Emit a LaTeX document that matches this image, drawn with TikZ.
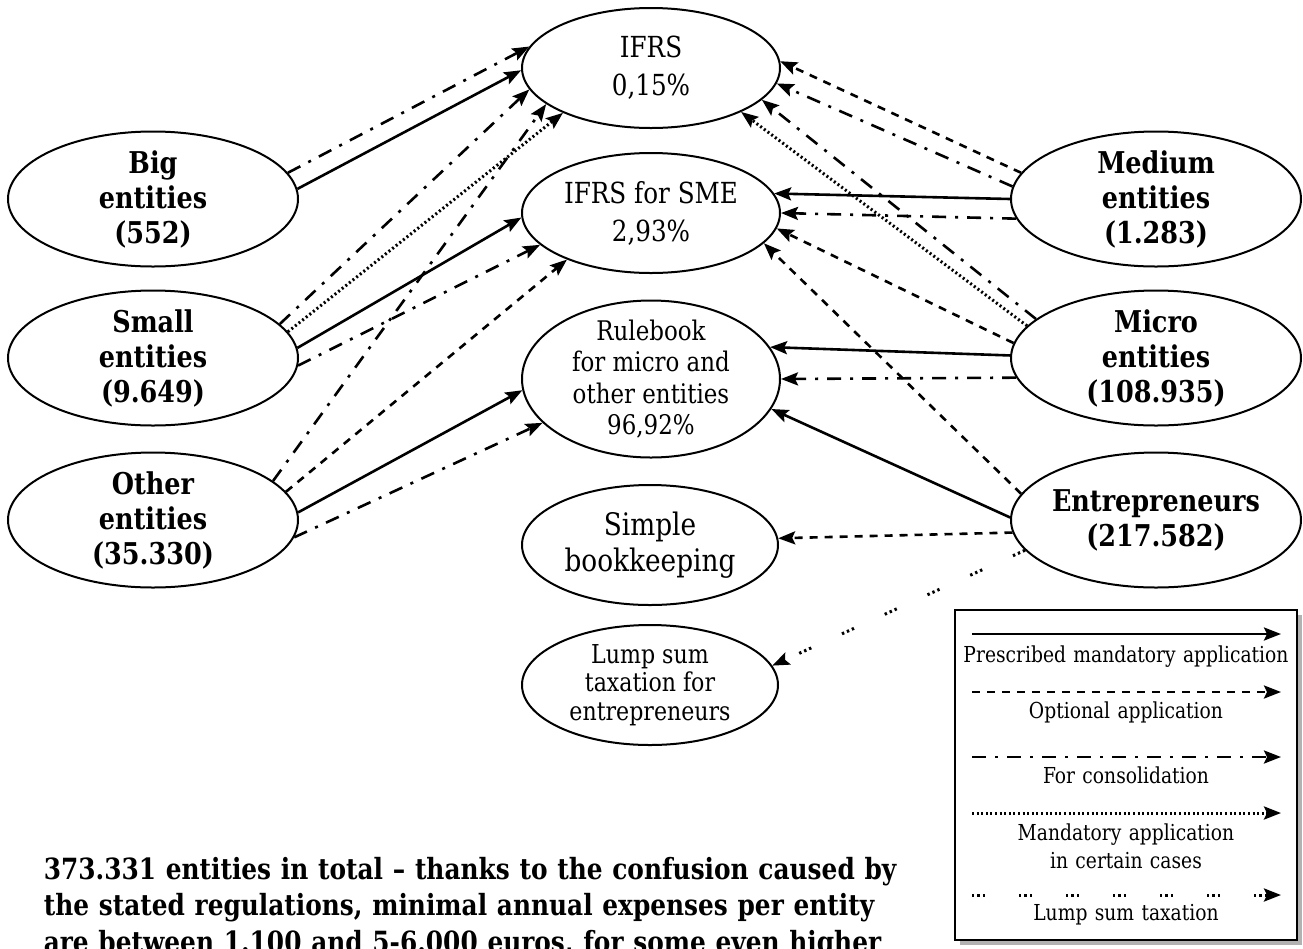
\documentclass[tikz,border=0pt]{standalone}
\usepackage{fontspec}
\setmainfont{DejaVu Serif}[FakeStretch=0.85]
\usetikzlibrary{shapes.geometric,arrows.meta,shadows}

\begin{document}
\begin{tikzpicture}[
    x=0.5pt,
    y=-0.5pt,
    thick
]

% =========================
% Styles
% =========================
\tikzstyle{entity} = [
    ellipse, draw,
    line width=1pt,
    inner sep=-6pt,
    minimum width=145pt,
    minimum height=67.5pt,
    align=center,
    font=\fontsize{15}{17.5}\selectfont\bfseries
]

\tikzstyle{std} = [
    ellipse, draw,
    line width=1pt,
    inner sep=-6pt,
    minimum width=129pt,
    minimum height=60pt,
    align=center,
    font=\fontsize{14.5}{19}\selectfont
]

\tikzstyle{key} = [
    text width=170pt,
    align=center,
    anchor=base,
    inner sep=0pt,
    font=\fontsize{11}{14}\selectfont
]

\tikzstyle{arr}  = [line width=1.3pt, -{Stealth[length=8.5pt,width=6.5pt,inset=1.5pt]}]
\tikzstyle{mand} = [arr]
\tikzstyle{opt}  = [arr, dash pattern=on 4pt off 3.5pt]
\tikzstyle{cons} = [arr, dash pattern=on 7pt off 4.5pt on 1.5pt off 4.5pt]
\tikzstyle{cert} = [arr, line width=1.5pt, dash pattern=on 1pt off 1.3pt]
\tikzstyle{lump} = [arr, line width=1.5pt, dash pattern=on 1.2pt off 1.5pt on 1.2pt off 1.5pt on 1.2pt off 16.9pt]

\useasboundingbox (0,0) rectangle (1303,949);

% =========================
% Nodes (FIXED POSITIONS)
% =========================
\node[entity] (big)    at (153,199)  {Big\\entities\\(552)};
\node[entity] (small)  at (153,358)  {Small\\entities\\(9.649)};
\node[entity] (other)  at (153,520)  {Other\\entities\\(35.330)};
\node[entity] (medium) at (1156,199) {Medium\\entities\\(1.283)};
\node[entity] (micro)  at (1156,358) {Micro\\entities\\(108.935)};
\node[entity] (entr)   at (1156,520) {Entrepreneurs\\(217.582)};

\node[std] (ifrs) at (651,68)  {IFRS\\0,15\%};
\node[std] (sme)  at (651,213) {IFRS for SME\\2,93\%};
\node[std, minimum height=78.5pt, font=\fontsize{13.5}{15.75}\selectfont]
    (rulebook) at (651,379) {Rulebook\\for micro and\\other entities\\96,92\%};
\node[std, minimum width=128pt, font=\fontsize{15.5}{18.3}\selectfont]
    (simple) at (650,545) {Simple\\bookkeeping};
\node[std, minimum width=128pt, font=\fontsize{13}{14.2}\selectfont]
    (lumpsum) at (650,685) {Lump sum\\taxation for\\entrepreneurs};

% =========================
% Connections
% =========================
\draw[cons] (big.11) -- (ifrs.170);
\draw[mand] (big.4)  -- (ifrs.181);

\draw[cons] (small.15) -- (ifrs.190);
\draw[cert] (small.11) -- (ifrs.207);
\draw[mand] (small.4)  -- (sme.182);
\draw[cons] (small.-3) -- (sme.196);

\draw[cons] (other.18) -- (ifrs.199);
\draw[opt]  (other.12) -- (sme.209);
\draw[mand] (other.3)  -- (rulebook.185);
\draw[cons] (other.-7) -- (rulebook.202);

\draw[opt]  (medium.169) -- (ifrs.3);
\draw[cons] (medium.175) -- (ifrs.-7);
\draw[mand] (medium.180) -- (sme.9);
\draw[cons] (medium.188) -- (sme.0);

\draw[cons] (micro.162) -- (ifrs.-16);
\draw[cert] (micro.166) -- (ifrs.-26);
\draw[opt]  (micro.174) -- (sme.-7);
\draw[mand] (micro.179) -- (rulebook.15);
\draw[cons] (micro.188) -- (rulebook.0);

\draw[opt]  (entr.169) -- (sme.-15);
\draw[mand] (entr.179) -- (rulebook.-14);
\draw[opt]  (entr.185) -- (simple.3);
\draw[lump] (entr.193) -- (lumpsum.9);

% =========================
% Legend
% =========================
\node[
    draw,
    line width=1pt,
    fill=white,
    minimum width=171pt,
    minimum height=165pt,
    drop shadow={shadow xshift=2.5pt, shadow yshift=-2.5pt, fill=black!30, opacity=1}
] (legend) at (1126,775) {};

\coordinate (k1a) at (972,634);
\coordinate (k1b) at (1281,634);
\draw[mand] (k1a) -- (k1b);
\node[key] (t1) at (1126,662) {Prescribed mandatory application};

\coordinate (k2a) at (972,692);
\coordinate (k2b) at (1281,692);
\draw[opt] (k2a) -- (k2b);
\node[key] (t2) at (1126,718) {Optional application};

\coordinate (k3a) at (972,757);
\coordinate (k3b) at (1281,757);
\draw[cons] (k3a) -- (k3b);
\node[key] (t3) at (1126,783) {For consolidation};

\coordinate (k4a) at (972,813);
\coordinate (k4b) at (1281,813);
\draw[cert] (k4a) -- (k4b);
\node[key] (t4) at (1126,840) {Mandatory application\\in certain cases};

\coordinate (k5a) at (972,895);
\coordinate (k5b) at (1281,895);
\draw[lump] (k5a) -- (k5b);
\node[key] (t5) at (1126,920) {Lump sum taxation};

% =========================
% Note
% =========================
\node[
    anchor=base west,
    text width=470pt,
    align=left,
    inner sep=0pt,
    font=\fontsize{14.6}{18.35}\selectfont\bfseries
] (note) at (43,879)
    {373.331 entities in total – thanks to the confusion caused by\\
     the stated regulations, minimal annual expenses per entity\\
     are between 1.100 and 5-6.000 euros, for some even higher};

\end{tikzpicture}
\end{document}
